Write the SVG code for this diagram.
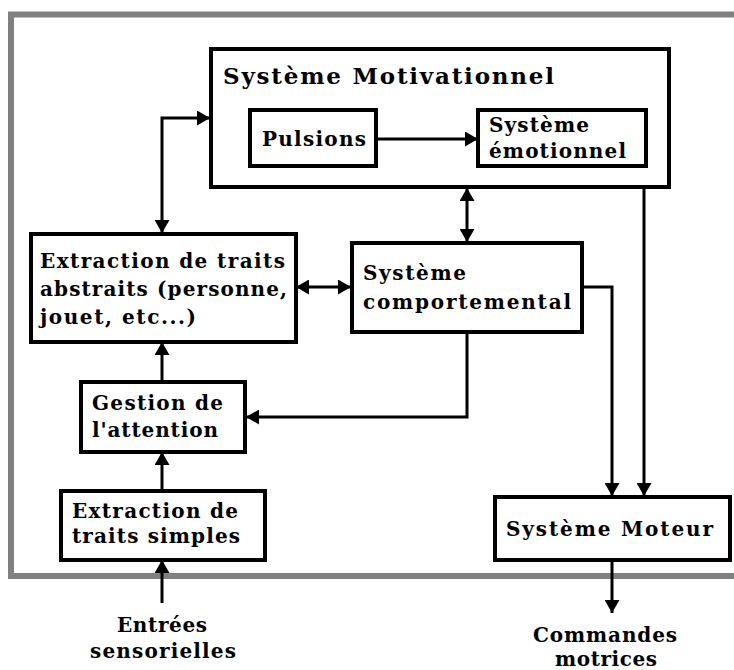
<svg xmlns="http://www.w3.org/2000/svg" width="734" height="670" viewBox="0 0 734 670">
<defs>
<style>
.box{fill:#fff;stroke:#000;stroke-width:4}
.ln{fill:none;stroke:#000;stroke-width:3}
.t{font-family:"DejaVu Serif","Liberation Serif",serif;font-weight:bold;font-size:20px;fill:#000}
.tt{font-size:23px}
</style>
<marker id="ah" viewBox="0 0 13 15" refX="13" refY="7.5" markerWidth="13" markerHeight="15" markerUnits="userSpaceOnUse" orient="auto-start-reverse">
<path d="M0,0 L13,7.5 L0,15 Z" fill="#000"/>
</marker>
</defs>
<rect width="734" height="670" fill="#fff"/>
<path d="M745,14.5 H11 V576 H745" fill="none" stroke="#808080" stroke-width="6"/>

<g id="motivationnel">
<rect class="box" x="211" y="49" width="458" height="138"/>
<text class="t tt" x="223" y="84" textLength="331" lengthAdjust="spacing">Système Motivationnel</text>
</g>
<g id="pulsions">
<rect class="box" x="250" y="110" width="126" height="56"/>
<text class="t" x="262" y="146" textLength="104" lengthAdjust="spacing">Pulsions</text>
</g>
<g id="emotionnel">
<rect class="box" x="478" y="110" width="168" height="56"/>
<text class="t" x="489" y="132" textLength="100" lengthAdjust="spacing">Système</text>
<text class="t" x="489" y="158" textLength="137" lengthAdjust="spacing">émotionnel</text>
</g>
<g id="abstraits">
<rect class="box" x="31" y="234" width="265" height="108"/>
<text class="t" x="40" y="268" textLength="245" lengthAdjust="spacing">Extraction de traits</text>
<text class="t" x="40" y="296" textLength="247" lengthAdjust="spacing">abstraits (personne,</text>
<text class="t" x="40" y="324" textLength="156" lengthAdjust="spacing">jouet, etc...)</text>
</g>
<g id="comportemental">
<rect class="box" x="352" y="243" width="230" height="89"/>
<text class="t" x="363" y="280" textLength="103" lengthAdjust="spacing">Système</text>
<text class="t" x="363" y="309" textLength="208" lengthAdjust="spacing">comportemental</text>
</g>
<g id="attention">
<rect class="box" x="81" y="382" width="164" height="70"/>
<text class="t" x="92" y="410" textLength="131" lengthAdjust="spacing">Gestion de</text>
<text class="t" x="92" y="437" textLength="126" lengthAdjust="spacing">l'attention</text>
</g>
<g id="simples">
<rect class="box" x="61" y="491" width="204" height="69"/>
<text class="t" x="72" y="518" textLength="166" lengthAdjust="spacing">Extraction de</text>
<text class="t" x="72" y="543" textLength="168" lengthAdjust="spacing">traits simples</text>
</g>
<g id="moteur">
<rect class="box" x="495" y="497" width="235" height="63"/>
<text class="t" x="506" y="536" textLength="207" lengthAdjust="spacing">Système Moteur</text>
</g>
<g id="entrees">
<text class="t" x="117" y="632" textLength="90" lengthAdjust="spacing">Entrées</text>
<text class="t" x="90" y="658" textLength="146" lengthAdjust="spacing">sensorielles</text>
</g>
<g id="commandes">
<text class="t" x="533" y="642" textLength="144" lengthAdjust="spacing">Commandes</text>
<text class="t" x="555" y="666" textLength="102" lengthAdjust="spacing">motrices</text>
</g>

<g id="connectors">
<path class="ln" d="M376,139 H478" marker-end="url(#ah)"/>
<path class="ln" d="M162,233 V118 H210" marker-start="url(#ah)" marker-end="url(#ah)"/>
<path class="ln" d="M296,287 H351" marker-start="url(#ah)" marker-end="url(#ah)"/>
<path class="ln" d="M467,188 V242" marker-start="url(#ah)" marker-end="url(#ah)"/>
<path class="ln" d="M582,287 H612 V496" marker-end="url(#ah)"/>
<path class="ln" d="M644,188 V496" marker-end="url(#ah)"/>
<path class="ln" d="M467,332 V417 H246" marker-end="url(#ah)"/>
<path class="ln" d="M162,381 V342" marker-end="url(#ah)"/>
<path class="ln" d="M162,490 V452" marker-end="url(#ah)"/>
<path class="ln" d="M162,603 V560" marker-end="url(#ah)"/>
<path class="ln" d="M612,561 V613" marker-end="url(#ah)"/>
</g>
</svg>
